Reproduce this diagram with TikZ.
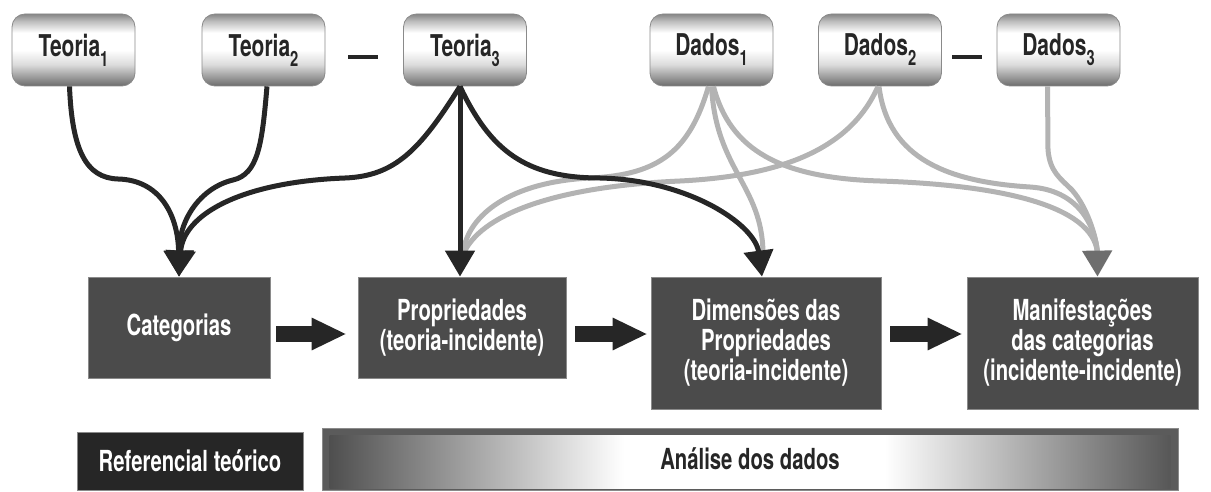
\documentclass[tikz,border=0pt]{standalone}
\usepackage{fontspec}
\setmainfont{TeX Gyre Heros}[FakeStretch=0.70]
\usetikzlibrary{arrows.meta,calc}
\definecolor{ink}{HTML}{262626}
\definecolor{boxfill}{HTML}{4B4B4B}
\definecolor{boxedge}{HTML}{8A8A8A}
\definecolor{lgray}{HTML}{B3B3B3}
\definecolor{tipgray}{HTML}{6E6E6E}
\definecolor{mA}{HTML}{6C6C6C}
\definecolor{mB}{HTML}{8A8A8A}
\definecolor{mC}{HTML}{DCDCDC}
\definecolor{mD}{HTML}{BDBDBD}
\definecolor{mE}{HTML}{868686}
\definecolor{aL}{HTML}{4F4F4F}
\definecolor{aR}{HTML}{575757}
\definecolor{frame}{HTML}{5B5B5B}
\pgfdeclareverticalshading{metal}{100bp}{color(0bp)=(mA); color(25bp)=(mA); color(29bp)=(mB); color(40bp)=(mC); color(50bp)=(white); color(62bp)=(white); color(70bp)=(mD); color(75bp)=(mE); color(100bp)=(mE)}
\pgfdeclarehorizontalshading{analise}{100bp}{color(0bp)=(aL); color(25bp)=(aL); color(42.5bp)=(white); color(58bp)=(white); color(75bp)=(aR); color(100bp)=(aR)}
\newcommand\sbs[1]{\raisebox{-10pt}{\fontsize{21}{21}\selectfont #1}}
\tikzset{
  topbox/.style={rounded corners=13pt, draw=boxedge, line width=0.8pt, shading=metal,
    minimum width=123pt, minimum height=72pt, inner sep=0pt, text=ink,
    font=\fontsize{30}{30}\selectfont\bfseries},
  stage/.style={draw=boxedge, line width=0.8pt, fill=boxfill, text=white, inner sep=0pt,
    align=center, font=\fontsize{29}{30}\selectfont\bfseries},
  blk/.style={draw=ink, line width=5pt},
  gry/.style={draw=lgray, line width=5pt},
  btip/.style={-{Triangle[width=29pt,length=26pt]}},
  gtip/.style={-{Triangle[width=29pt,length=26pt,color=tipgray,fill=tipgray]}},
  fat/.style={draw=ink, line width=16pt, -{Triangle[width=30pt,length=35pt]}},
  joiner/.style={draw=ink, line width=4.5pt},
  refbox/.style={draw=boxedge, line width=0.8pt, fill=ink, text=white, inner sep=0pt,
    minimum width=226pt, minimum height=58pt, font=\fontsize{29}{30}\selectfont\bfseries},
  anframe/.style={draw=boxedge, line width=0.8pt, fill=frame, inner sep=0pt,
    minimum width=856pt, minimum height=62pt},
  antext/.style={text=ink, inner sep=0pt, font=\fontsize{29}{30}\selectfont\bfseries}
}
\begin{document}
\begin{tikzpicture}[x=1pt,y=-1pt]
\useasboundingbox (0,0) rectangle (1211,492);
% top boxes
\node[topbox] (t1) at (73.5,50) {Teoria\sbs{1}};
\node[topbox] (t2) at (263.5,50) {Teoria\sbs{2}};
\node[topbox] (t3) at (465,50) {Teoria\sbs{3}};
\node[topbox] (d1) at (711.5,50) {Dados\sbs{1}};
\node[topbox] (d2) at (880,50) {Dados\sbs{2}};
\node[topbox] (d3) at (1058.5,50) {Dados\sbs{3}};
\draw[joiner] ($(t2.east)+(23,7)$) -- ($(t3.west)+(-25,7)$);
\draw[joiner] ($(d2.east)+(10.5,7)$) -- ($(d3.west)+(-15,7)$);
% stage boxes
\node[stage, minimum width=182pt, minimum height=101pt] (cat) at (179,327.5) {Categorias};
\node[stage, minimum width=208pt, minimum height=101pt] (prop) at (462,327.5) {Propriedades\\(teoria-incidente)};
\node[stage, minimum width=230pt, minimum height=132pt] (dim) at (766,343) {Dimensões das\\Propriedades\\(teoria-incidente)};
\node[stage, minimum width=231pt, minimum height=132pt] (man) at (1082.5,343) {Manifestações\\das categorias\\(incidente-incidente)};
% gray connectors
\draw[gry] ($(d1.south)+(-3,0)$) .. controls (690,150) and (660,175) .. (590,178)
   .. controls (510,182) and (468,215) .. ($(prop.north)+(1,-24)$);
\draw[gry] ($(d2.south)+(-2,0)$) .. controls (850,150) and (780,176) .. (680,181)
   .. controls (545,187) and (480,218) .. ($(prop.north)+(2,-24)$);
\draw[gry] (d1.south) .. controls (716,170) and (762,185) .. ($(dim.north)+(-3,-24)$);
\draw[gry] ($(d1.south)+(2,0)$) .. controls (730,150) and (780,178) .. (880,181)
   .. controls (1000,185) and (1092,205) .. ($(man.north)+(15,-24)$);
\draw[gry] ($(d2.south)+(-1,0)$) .. controls (888,160) and (950,182) .. (1030,187)
   .. controls (1078,190) and (1095,225) .. ($(man.north)+(15,-24)$);
\draw[gry,gtip] ($(d3.south)+(-11,0)$) -- (1048,150) .. controls (1050,172) and (1060,178) .. (1072,190)
   .. controls (1088,208) and (1097,240) .. ($(man.north)+(15,0)$);
% black connectors
\draw[blk,btip] ($(t1.south)+(-4,0)$) .. controls (72,150) and (86,178) .. (118,179)
   .. controls (160,180) and (178,215) .. (cat.north);
\draw[blk,btip] ($(t2.south)+(3.5,0)$) .. controls (262,145) and (258,174) .. (233,180)
   .. controls (200,188) and (179,220) .. (cat.north);
\draw[blk,btip] ($(t3.south)+(-5,0)$) .. controls (420,150) and (395,176) .. (345,178)
   .. controls (240,182) and (183,215) .. (cat.north);
\draw[blk,btip] ($(t3.south)+(-5,0)$) -- ($(prop.north)+(-2,0)$);
\draw[blk,btip] ($(t3.south)+(-5,0)$) .. controls (490,150) and (525,178) .. (600,178)
   .. controls (690,180) and (755,225) .. ($(dim.north)+(-4,0)$);
% block arrows
\draw[fat] ($(cat.east)+(6,6.5)$) -- ($(prop.west)+(-11,6.5)$);
\draw[fat] ($(prop.east)+(9,6.5)$) -- ($(dim.west)+(-3,-9)$);
\draw[fat] ($(dim.east)+(9,-9)$) -- ($(man.west)+(-4,-9)$);
% bottom bar
\node[refbox] (ref) at (190,461) {Referencial teórico};
\node[anframe] (anl) at (750,459) {};
\shade[shading=analise] ($(anl.north west)+(8,8)$) rectangle ($(anl.south east)+(-8,-2)$);
\node[antext] (anltext) at (anl.center) {Análise dos dados};
\end{tikzpicture}
\end{document}
